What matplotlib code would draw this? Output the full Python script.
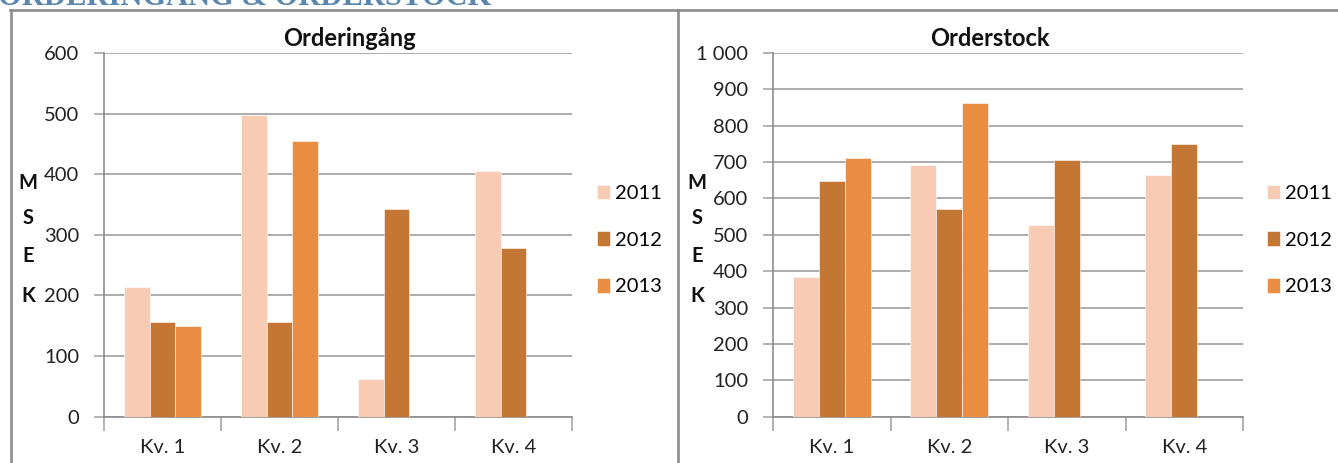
import numpy as np
import matplotlib
matplotlib.use("Agg")
import matplotlib.pyplot as plt
from matplotlib.lines import Line2D
from matplotlib.ticker import FuncFormatter, FixedLocator

# ---- data ----
quarters = ["Kv. 1", "Kv. 2", "Kv. 3", "Kv. 4"]
years = ["2011", "2012", "2013"]

orderingang_2011 = [214, 497, 62, 406]
orderingang_2012 = [157, 157, 342, 279]
orderingang_2013 = [150, 455, np.nan, np.nan]

orderstock_2011 = [385, 692, 527, 664]
orderstock_2012 = [647, 572, 707, 751]
orderstock_2013 = [710, 862, np.nan, np.nan]

colors = ["#F8CBB4", "#C47634", "#E88D41"]

plt.rcParams['font.family'] = ['Lato', 'DejaVu Sans']

W, H = 1338, 463
fig = plt.figure(figsize=(W / 100, H / 100), dpi=100)
fig.patch.set_facecolor("white")

grid_c = "#A6A6A6"
axis_c = "#8C8C8C"
tick_fs = 14.5


def fmt_thousands(v, pos):
    s = f"{int(round(v)):,}"
    return s.replace(",", " ")


def draw_panel(rect, series, ymax, ystep, title, title_x, msek_x, legend_x):
    ax = fig.add_axes(rect)
    x = np.arange(len(quarters))
    bw = 0.222
    for i, (vals, c) in enumerate(zip(series, colors)):
        ax.bar(x + (i - 1) * bw, vals, width=bw, color=c, label=years[i],
               edgecolor="white", linewidth=0.4, zorder=3)
    ax.set_xlim(-0.5, len(quarters) - 0.5)
    ax.set_ylim(0, ymax)
    ax.yaxis.set_major_locator(FixedLocator(np.arange(0, ymax + 1, ystep)))
    ax.yaxis.set_major_formatter(FuncFormatter(fmt_thousands))
    ax.grid(axis="y", color=grid_c, linewidth=1.3, zorder=0)
    ax.set_axisbelow(True)
    for s in ["top", "right"]:
        ax.spines[s].set_visible(False)
    for s in ["left", "bottom"]:
        ax.spines[s].set_color(axis_c)
        ax.spines[s].set_linewidth(1.2)
    ax.tick_params(axis="y", direction="out", length=7, width=1.2, color=grid_c,
                   labelsize=tick_fs, pad=11, labelcolor="#222222")
    ax.set_xticks(x)
    ax.set_xticklabels(quarters)
    ax.set_xticks(np.arange(-0.5, len(quarters), 1.0), minor=True)
    ax.tick_params(axis="x", which="major", length=0, labelsize=tick_fs, pad=16,
                   labelcolor="#222222")
    ax.tick_params(axis="x", which="minor", direction="out", length=10, width=1.2,
                   color=grid_c)
    fig.text(title_x, 1 - 38 / H, title, ha="center", va="center",
             fontsize=17, fontweight="bold", color="#111111")
    for ch, yy in zip("MSEK", [183, 218, 256, 296]):
        fig.text(msek_x, 1 - yy / H, ch, ha="center", va="center",
                 fontsize=14.5, fontweight="bold", color="#111111")
    ax.legend(loc="center left", bbox_to_anchor=(legend_x, 1 - 240 / H),
              bbox_transform=fig.transFigure, frameon=False,
              fontsize=tick_fs, handlelength=0.65, handleheight=0.75,
              handletextpad=0.25, labelspacing=1.45, borderpad=0,
              borderaxespad=0)
    return ax


bottom = 1 - 416.7 / H
height = (416.7 - 53) / H

draw_panel([104 / W, bottom, 468 / W, height],
           [orderingang_2011, orderingang_2012, orderingang_2013],
           600, 100, "Orderingång", 349 / W, 28 / W, 597 / W)

draw_panel([773 / W, bottom, 470 / W, height],
           [orderstock_2011, orderstock_2012, orderstock_2013],
           1000, 100, "Orderstock", 990 / W, 697 / W, 1267 / W)

# frames
frame_c = "#8C8C8C"
fig.add_artist(Line2D([10 / W, 1.0], [1 - 10 / H, 1 - 10 / H],
                      transform=fig.transFigure, color=frame_c, linewidth=1.9))
fig.add_artist(Line2D([11 / W, 11 / W], [0, 1 - 10 / H],
                      transform=fig.transFigure, color=frame_c, linewidth=1.9))
fig.add_artist(Line2D([677.5 / W, 677.5 / W], [0, 1 - 10 / H],
                      transform=fig.transFigure, color=frame_c, linewidth=1.9))

# page header, cut off at the top edge as in the source picture
fig.text(-2 / W, 1 - 5 / H, "ORDERINGÅNG & ORDERSTOCK", ha="left", va="baseline",
         fontsize=22, fontweight="bold", color="#5B87AE",
         family=["Liberation Serif", "DejaVu Serif"])

fig.savefig("out.png", dpi=100)
